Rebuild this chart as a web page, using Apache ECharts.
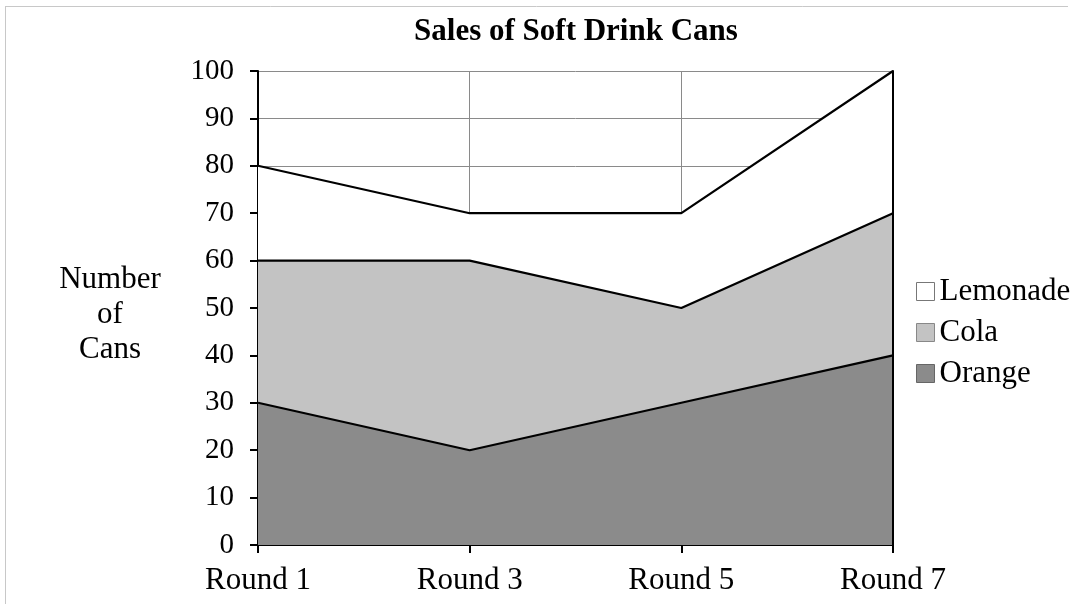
<!DOCTYPE html>
<html>
<head>
<meta charset="utf-8">
<title>Sales of Soft Drink Cans</title>
<script src="https://cdn.jsdelivr.net/npm/echarts@6/dist/echarts.min.js"></script>
<style>
  html, body { margin: 0; padding: 0; background: #fff; }
  #chart { width: 1074px; height: 610px; }
</style>
</head>
<body>
<div id="chart"></div>
<script>
// Rounds along the x axis
const rounds = ['Round 1', 'Round 3', 'Round 5', 'Round 7'];
// Cans sold per drink in each round (stacked bottom to top: Orange, Cola, Lemonade)
const orange = [30, 20, 30, 40];
const cola = [30, 40, 20, 30];
const lemonade = [20, 10, 20, 30];

const FONT = '"Liberation Serif", "DejaVu Serif", serif';
const colors = { Orange: '#8b8b8b', Cola: '#c3c3c3', Lemonade: '#ffffff' };

function areaSeries(name, values) {
  return {
    name: name,
    type: 'line',
    stack: 'cans',
    data: values,
    symbol: 'none',
    lineStyle: { color: '#000', width: 2.2 },
    areaStyle: { color: colors[name], opacity: 1 },
    itemStyle: { color: colors[name] },
    z: 2
  };
}

const chart = echarts.init(document.getElementById('chart'), null, { renderer: 'canvas' });
chart.setOption({
  backgroundColor: '#fff',
  animation: false,
  title: {
    text: 'Sales of Soft Drink Cans',
    left: 571,
    top: 11,
    textAlign: 'center',
    textStyle: { fontFamily: FONT, fontWeight: 'bold', fontSize: 31, color: '#000' }
  },
  legend: {
    orient: 'vertical',
    left: 911,
    top: 271,
    itemWidth: 18,
    itemHeight: 18,
    itemGap: 10,
    textStyle: { fontFamily: FONT, fontSize: 31, color: '#000' },
    data: [
      { name: 'Lemonade', icon: 'rect', itemStyle: { color: colors.Lemonade, borderColor: '#777', borderWidth: 1 } },
      { name: 'Cola', icon: 'rect', itemStyle: { color: colors.Cola, borderColor: '#888', borderWidth: 1 } },
      { name: 'Orange', icon: 'rect', itemStyle: { color: colors.Orange, borderColor: '#666', borderWidth: 1 } }
    ]
  },
  grid: { left: 258, right: 181, top: 71, bottom: 65 },
  xAxis: {
    type: 'category',
    data: rounds,
    boundaryGap: false,
    axisLine: { lineStyle: { color: '#000', width: 2 } },
    axisTick: { show: true, length: 8, lineStyle: { color: '#000', width: 2 } },
    axisLabel: { fontFamily: FONT, fontSize: 31, color: '#000', margin: 20 },
    splitLine: { show: true, lineStyle: { color: '#8a8a8a', width: 1 } }
  },
  yAxis: [{
    type: 'value',
    min: 0,
    max: 100,
    interval: 10,
    axisLine: { show: true, lineStyle: { color: '#000', width: 2 } },
    axisTick: { show: true, length: 8, lineStyle: { color: '#000', width: 2 } },
    axisLabel: { fontFamily: FONT, fontSize: 29, color: '#000', margin: 24 },
    splitLine: { show: true, lineStyle: { color: '#8a8a8a', width: 1 } }
  }, {
    type: 'value',
    position: 'right',
    min: 0,
    max: 100,
    interval: 10,
    axisLine: { show: true, lineStyle: { color: '#000', width: 2 } },
    axisTick: { show: false },
    axisLabel: { show: false },
    splitLine: { show: false },
    z: 5
  }],
  graphic: [
    {
      type: 'text',
      x: 110,
      y: 262,
      style: {
        text: 'Number\nof\nCans',
        font: '31px ' + FONT,
        fill: '#000',
        align: 'center',
        verticalAlign: 'top',
        lineHeight: 35
      }
    },
    { type: 'line', shape: { x1: 5, y1: 6.5, x2: 1068, y2: 6.5 }, style: { stroke: '#c8c8c8', lineWidth: 1 } },
    { type: 'line', shape: { x1: 5.5, y1: 6, x2: 5.5, y2: 604 }, style: { stroke: '#c8c8c8', lineWidth: 1 } }
  ],
  series: [
    areaSeries('Orange', orange),
    areaSeries('Cola', cola),
    areaSeries('Lemonade', lemonade)
  ]
});
</script>
</body>
</html>
